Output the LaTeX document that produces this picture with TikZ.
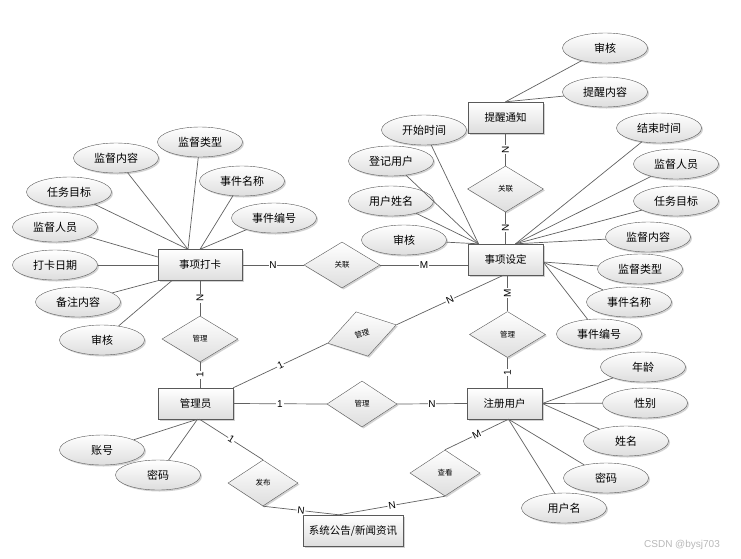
\documentclass[tikz,border=0pt]{standalone}
\usepackage{fontspec}
\setmainfont{Liberation Sans}
\newfontfamily\cjk{Noto Sans CJK SC}
\usetikzlibrary{shapes.geometric,shadows,calc}
\tikzset{
  shadowed/.style={drop shadow={shadow xshift=1.5pt,shadow yshift=-1.5pt,fill=black!35,opacity=0.5}},
  ent/.style={shadowed,draw=black!65,rectangle,minimum width=75pt,minimum height=31pt,inner sep=0pt,
    top color=white,bottom color=black!13,font=\cjk\fontsize{10.5}{12}\selectfont},
  attr/.style={shadowed,draw=black!65,ellipse,minimum width=85pt,minimum height=30pt,inner sep=0pt,
    top color=white,bottom color=black!13,font=\cjk\fontsize{11}{12}\selectfont},
  rel/.style={shadowed,draw=black!65,diamond,minimum width=76pt,minimum height=46pt,inner sep=0pt,
    top color=white,bottom color=black!13,font=\cjk\fontsize{7.5}{8}\selectfont},
  ln/.style={draw=black!62,line width=0.7pt},
  card/.style={fill=white,inner sep=0.8pt,font=\fontsize{10}{11}\selectfont},
  vcard/.style={card,rotate=90},
  scard/.style={card,sloped},
}
\begin{document}
\begin{tikzpicture}[x=1pt,y=-1pt]
\useasboundingbox (0,0) rectangle (741,558);

% entities
\node[ent,minimum width=84pt] (dk) at (200,265) {事项打卡};
\node[ent] (sd) at (505.5,259.5) {事项设定};
\node[ent] (tx) at (505.5,117.5) {提醒通知};
\node[ent] (gly) at (195.5,403.5) {管理员};
\node[ent] (zc) at (504.5,403.5) {注册用户};
\node[ent,minimum width=100pt] (xt) at (353,530.5) {系统公告/新闻资讯};

% relationships
\node[rel] (r1) at (342,265) {关联};
\node[rel] (r2) at (505.5,189) {关联};
\node[rel] (r3) at (200,339) {管理};
\node[rel,rotate=15,minimum width=71pt] (r4) at (362,334) {管理};
\node[rel] (r5) at (507.5,334.5) {管理};
\node[rel,minimum width=70pt] (r6) at (362,404) {管理};
\node[rel,minimum width=70pt] (r7) at (263,483) {发布};
\node[rel,minimum width=70pt] (r8) at (445,473) {查看};

% attributes of 事项打卡
\node[attr] (l1) at (116,158) {监督内容};
\node[attr] (l2) at (200,142) {监督类型};
\node[attr] (l3) at (242,181) {事件名称};
\node[attr] (l4) at (69,192) {任务目标};
\node[attr] (l5) at (274,218) {事件编号};
\node[attr] (l6) at (55,227) {监督人员};
\node[attr] (l7) at (55,265) {打卡日期};
\node[attr] (l8) at (78,302) {备注内容};
\node[attr] (l9) at (102,340) {审核};

% attributes of 事项设定
\node[attr] (m1) at (424,130) {开始时间};
\node[attr] (m2) at (391,161) {登记用户};
\node[attr] (m3) at (391,201) {用户姓名};
\node[attr] (m4) at (404,240) {审核};
\node[attr] (s1) at (659,128) {结束时间};
\node[attr] (s2) at (676,164) {监督人员};
\node[attr] (s3) at (676,201) {任务目标};
\node[attr] (s4) at (648,237) {监督内容};
\node[attr] (s5) at (640,269) {监督类型};
\node[attr] (s6) at (629,302) {事件名称};
\node[attr] (s7) at (599,334) {事件编号};

% attributes of 提醒通知
\node[attr] (t1) at (605,48) {审核};
\node[attr] (t2) at (605,92) {提醒内容};

% attributes of 注册用户
\node[attr] (u1) at (643,367) {年龄};
\node[attr] (u2) at (645,403) {性别};
\node[attr] (u3) at (626,441) {姓名};
\node[attr] (u4) at (606,478) {密码};
\node[attr] (u5) at (564,508) {用户名};

% attributes of 管理员
\node[attr] (g1) at (102,450) {账号};
\node[attr] (g2) at (158,475) {密码};

\node[font=\fontsize{10}{12}\selectfont,text=black!28] (wm) at (682,545) {CSDN @bysj703};

% attribute connectors
\coordinate (dkT) at ([xshift=-12pt]dk.north);
\draw[ln] (l1) -- (dkT);
\draw[ln] (l2) -- (dkT);
\draw[ln] (l4) -- (dkT);
\draw[ln] (l3) -- (dk.north);
\draw[ln] (l5) -- (dk.north);
\draw[ln] (l6) -- ([yshift=8pt]dk.west);
\draw[ln] (l7) -- (dk.west);
\draw[ln] (l8) -- (dk.south west);
\draw[ln] (l9) -- ([xshift=14pt]dk.south west);

\coordinate (sdL) at ([xshift=-27pt]sd.north);
\coordinate (sdR) at ([xshift=10pt]sd.north);
\coordinate (sdE) at ([yshift=-2.5pt]sd.east);
\draw[ln] (m1) -- (sdL);
\draw[ln] (m2) -- (sdL);
\draw[ln] (m3) -- (sdL);
\draw[ln] (m4) -- (sdL);
\draw[ln] (s1) -- (sdR);
\draw[ln] (s2) -- (sdR);
\draw[ln] (s3) -- (sdR);
\draw[ln] (s4) -- (sdR);
\draw[ln] (s5) -- (sdE);
\draw[ln] (s6) -- (sdE);
\draw[ln] (s7) -- (sdE);

\draw[ln] (t1) -- (tx.north);
\draw[ln] (t2) -- (tx.north);

\coordinate (zcB) at ([xshift=4pt]zc.south);
\draw[ln] (u1) -- (zc.east);
\draw[ln] (u2) -- (zc.east);
\draw[ln] (u3) -- (zc.east);
\draw[ln] (u4) -- (zcB);
\draw[ln] (u5) -- (zcB);

\coordinate (glyB) at ([xshift=2pt]gly.south);
\draw[ln] (g1) -- (glyB);
\draw[ln] (g2) -- (glyB);

% relationship connectors
\draw[ln] (dk.east) -- node[card] {N} (r1.west);
\draw[ln] (r1.east) -- node[card] {M} (r1.east -| sd.west);
\draw[ln] (dk.south) -- node[vcard] {N} (r3.north);
\draw[ln] (r3.south) -- node[vcard] {1} (r3.south |- gly.north);
\draw[ln] (r2.north |- tx.south) -- node[vcard] {N} (r2.north);
\draw[ln] (r2.south) -- node[vcard] {N} (r2.south |- sd.north);
\draw[ln] (r5.north |- sd.south) -- node[vcard] {M} (r5.north);
\draw[ln] (r5.south) -- node[vcard] {1} (r5.south |- zc.north);
\draw[ln] (gly.east) -- node[card] {1} (r6.west);
\draw[ln] (r6.east) -- node[card] {N} (zc.west);
\draw[ln] (gly.north east) -- node[scard] {1} (r4.west);
\draw[ln] (r4.east) -- node[scard] {N} ([xshift=-2pt]sd.south);
\coordinate (xtT) at ([xshift=-14pt]xt.north);
\draw[ln] ([xshift=4pt]gly.south) -- node[scard] {1} (r7.north);
\draw[ln] (r7.south) -- node[scard] {N} (xtT);
\draw[ln] (r8.south) -- node[scard] {N} (xtT);
\draw[ln] (r8.north) -- node[scard] {M} (zcB);
\end{tikzpicture}
\end{document}
